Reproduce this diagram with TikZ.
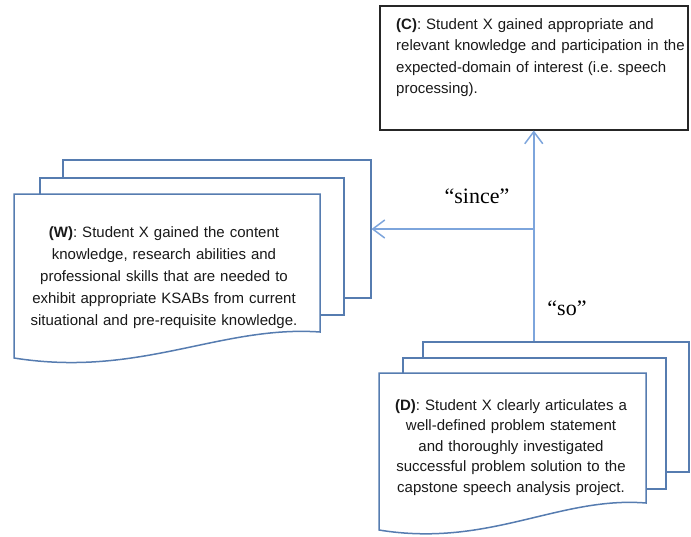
\documentclass[tikz,border=0pt]{standalone}
\usepackage{fontspec}
\setmainfont{Liberation Sans}
\newfontfamily\quotefont{Liberation Serif}
\usetikzlibrary{arrows.meta}
\definecolor{sheetblue}{RGB}{86,124,176}
\definecolor{linkblue}{RGB}{125,165,220}
\tikzset{
  sheet/.style={draw=sheetblue, line width=1.5pt, fill=white, anchor=north west, inner sep=0pt},
  link/.style={draw=linkblue, line width=1.5pt, -{Straight Barb[length=12pt,width=18pt]}},
  txt/.style={inner sep=0pt, text=black!90},
  quote/.style={inner sep=0pt, anchor=base, font=\quotefont\fontsize{22}{24}\selectfont}
}
\begin{document}
\begin{tikzpicture}[x=1pt,y=-1pt]
    \useasboundingbox (0,0) rectangle (691,536);
    % sheets behind the front page of each stack
    \foreach \nm/\px/\py/\w/\h in {Wback/62/159/308/138, Wmid/39/177/304/137, Dback/422/341/266/130, Dmid/402/357/263/131}
        \node[sheet, minimum width=\w pt, minimum height=\h pt] (\nm) at (\px,\py) {};
    % front pages with the wavy bottom
    \draw[sheet] (14,358) -- (14,194) -- (320,194) -- (320,332) .. controls (220,325) and (140,378) .. (14,358) -- cycle;
    \draw[sheet] (379,530) -- (379,373) -- (646,373) -- (646,503) .. controls (559,496) and (489,548) .. (379,530) -- cycle;
    % claim box
    \node[draw=black!85, line width=1.5pt, minimum width=308pt, minimum height=124pt, anchor=north west, inner sep=0pt] (C) at (379,5) {};

    \node[txt, text width=300pt, align=left, anchor=base west, font=\fontsize{15}{21.5}\selectfont] (Ctxt) at (396,29)
        {\textbf{(C)}: Student X gained appropriate and\\relevant knowledge and participation in the\\expected-domain of interest (i.e.\ speech\\processing).};
    \node[txt, text width=300pt, align=center, anchor=base, font=\fontsize{15}{22}\selectfont] (Wtxt) at (164,237)
        {\textbf{(W)}: Student X gained the content\\knowledge, research abilities and\\professional skills that are needed to\\exhibit appropriate KSABs from current\\situational and pre-requisite knowledge.};
    \node[txt, text width=300pt, align=center, anchor=base, font=\fontsize{15}{20.5}\selectfont] (Dtxt) at (511,410)
        {\textbf{(D)}: Student X clearly articulates a\\well-defined problem statement\\and thoroughly investigated\\successful problem solution to the\\capstone speech analysis project.};

    \coordinate (J) at (C.south |- 0,229);
    \draw[link] (C.south |- Dback.north) -- (C.south);
    \draw[link] (J) -- (J -| Wback.east);

    \node[quote] (since) at (477,203) {“since”};
    \node[quote] (so) at (567,315) {“so”};
\end{tikzpicture}
\end{document}
